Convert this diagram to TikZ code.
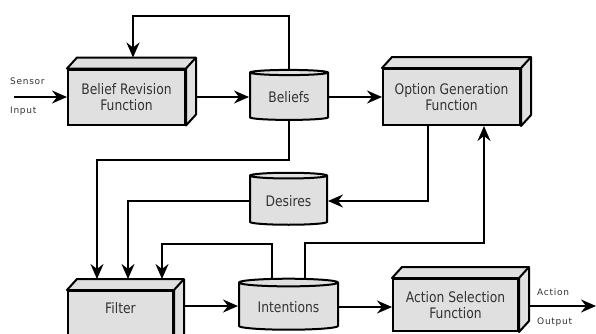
\documentclass[tikz,border=0pt]{standalone}
\usepackage{fontspec}
\setmainfont{DejaVu Sans}[FakeStretch=0.85]
\newfontfamily\lblfont{DejaVu Sans}[LetterSpace=8]
\usetikzlibrary{shapes.geometric,arrows.meta,calc,backgrounds}
\definecolor{boxgray}{HTML}{E0E0E0}
\definecolor{txtgray}{HTML}{333333}
\newcommand{\boxfont}{\fontsize{14.5}{16.5}\selectfont}
\newcommand{\depthfaces}[1]{%
  \filldraw[face] (#1.north west) -- ++(10,-11) -- ($(#1.north east)+(10,-11)$)
    -- ($(#1.south east)+(10,-11)$) -- (#1.south east) -- (#1.north east) -- cycle;
  \draw[face] (#1.north east) -- ++(10,-11);}
\tikzset{
  fbox/.style={draw, line width=2pt, fill=boxgray, align=center, text=txtgray, font=\boxfont, inner sep=2pt},
  face/.style={draw, line width=2pt, fill=boxgray, line join=round},
  store/.style={cylinder, shape border rotate=90, aspect=0.12, draw, fill=boxgray, line width=2pt, text=txtgray, font=\boxfont, inner sep=1pt},
  arr/.style={line width=2pt, -{Stealth[length=15pt,width=13pt,inset=5pt]}},
  lbl/.style={font=\lblfont\fontsize{9}{10}\selectfont, text=txtgray, inner sep=0pt}
}
\begin{document}
\begin{tikzpicture}[x=1pt,y=-1pt]
\useasboundingbox (0,0) rectangle (596,333);
\clip (0,0) rectangle (596,333);
% boxes
\node[fbox, minimum width=117pt, minimum height=55pt] (BR) at (126.5,97) {Belief Revision\\Function};
\depthfaces{BR}
\node[fbox, minimum width=137pt, minimum height=56pt] (OG) at (451.5,97) {Option Generation\\Function};
\depthfaces{OG}
\node[fbox, minimum width=105pt, minimum height=55pt] (Filter) at (120.5,318.5) {};
\depthfaces{Filter}
\node[text=txtgray, font=\boxfont] (filtertxt) at (120.5,308) {Filter};
\node[fbox, minimum width=125pt, minimum height=52pt] (AS) at (455.5,305) {Action Selection\\Function};
\depthfaces{AS}
% stores
\node[store, minimum width=78pt, minimum height=50pt] (Bel) at (289,97) {Beliefs};
\node[store, minimum width=77pt, minimum height=52pt] (Des) at (288.5,201) {Desires};
\node[store, minimum width=99pt, minimum height=51pt] (Int) at (288.5,307) {Intentions};
% labels
\node[lbl, anchor=west] (sensor) at (10,81) {Sensor};
\node[lbl, anchor=west] (input) at (10,111) {Input};
\node[lbl, anchor=west] (action) at (537,292) {Action};
\node[lbl, anchor=west] (output) at (537,322) {Output};
\coordinate (sin) at (14,97);
\coordinate (aout) at (596,306);
\begin{scope}[on background layer]
\draw[arr] (sin) -- (sin -| BR.west);
\draw[arr] (BR.east) -- (BR.east -| Bel.west);
\draw[arr] (Bel.east) -- (Bel.east -| OG.west);
\draw[arr] (Bel.center) -- ++(0,-81) -| ([xshift=6.5pt,yshift=11pt]BR.north);
\draw[arr] (Bel.center) -- ++(0,63) -| ([xshift=-23.5pt,yshift=11pt]Filter.north);
\draw[arr] (Des.center) -| ([xshift=7.5pt,yshift=11pt]Filter.north);
\draw[arr] ([xshift=-16.5pt]Int.center) -- ++(0,-63) -| ([xshift=41.5pt,yshift=11pt]Filter.north);
\draw[arr] ([xshift=16.5pt]Int.center) -- ++(0,-64) -| ([xshift=32.5pt]OG.south);
\draw[arr] ([xshift=-23.5pt]OG.south) |- (Des.east);
\draw[arr] ($(Filter.east)+(0,-12.5)$) -- ($(Filter.east -| Int.west)+(0,-12.5)$);
\draw[arr] (Int.east) -- (Int.east -| AS.west);
\draw[arr] (AS.center |- aout) -- (aout);
\end{scope}
\end{tikzpicture}
\end{document}
